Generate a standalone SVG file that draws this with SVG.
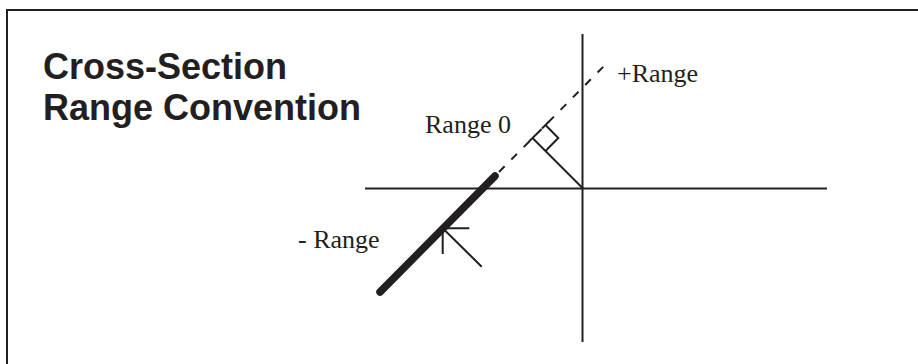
<svg xmlns="http://www.w3.org/2000/svg" width="918" height="364" viewBox="0 0 918 364">
<style>
.ln{stroke:#231f20;fill:none;stroke-width:2}
.thin{stroke:#231f20;fill:none;stroke-width:2}
.title{font-family:"Liberation Sans",Arial,sans-serif;font-weight:bold;font-size:36px;fill:#231f20}
.lbl{font-family:"Liberation Serif","Times New Roman",serif;font-size:26px;fill:#231f20}
</style>
<rect width="918" height="364" fill="#ffffff"/>
<path class="ln" d="M7,380 V10 H930"/>
<g id="title">
<text class="title" x="43" y="79">Cross-Section</text>
<text class="title" x="43" y="120">Range Convention</text>
</g>
<g id="axes">
<line class="ln" x1="582.5" y1="34" x2="582.5" y2="342"/>
<line class="ln" x1="365" y1="188.5" x2="827" y2="188.5"/>
</g>
<g id="connectors">
<line x1="380" y1="292" x2="495" y2="176" stroke="#231f20" stroke-width="7.5" stroke-linecap="round"/>
<line class="thin" x1="499" y1="172" x2="608" y2="62" stroke-dasharray="8 9.5"/>
<line class="thin" x1="583" y1="188.5" x2="532.5" y2="138"/>
<path class="thin" d="M545.5,125 L558.3,138 L545.5,151"/>
<path class="thin" d="M542,128.5 L549,121.5 M529,141.5 L536,134.5"/>
<path class="thin" d="M481.7,266.7 L442.7,228.3 M442.7,228.3 H469.3 M442.7,228.3 V254"/>
</g>
<g id="labels">
<text class="lbl" x="617" y="82">+Range</text>
<text class="lbl" x="425" y="133">Range 0</text>
<text class="lbl" x="298" y="248">- Range</text>
</g>
</svg>
